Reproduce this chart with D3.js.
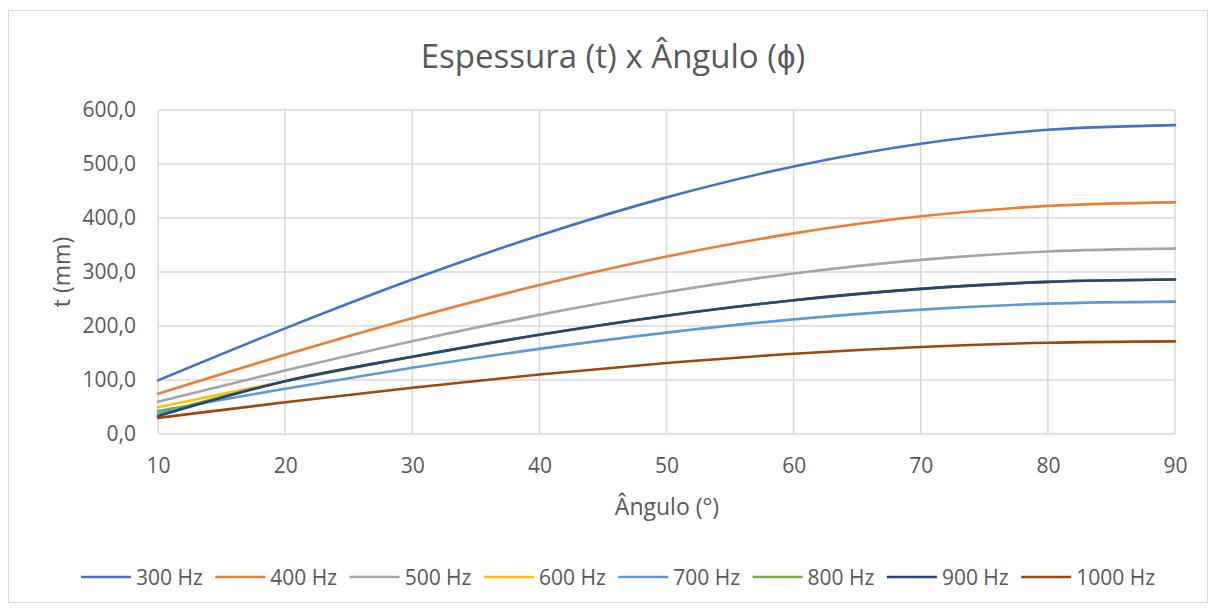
<!DOCTYPE html>
<html><head><meta charset="utf-8">
<script src="https://cdn.jsdelivr.net/npm/d3@7"></script>
<style>body{margin:0;background:#fff}svg{display:block}text{font-family:"Open Sans",sans-serif;fill:#595959}</style>
</head><body><svg id="c" width="1216" height="610"></svg>
<script>
const angles = [10,20,30,40,50,60,70,80,90];
const seriesNames = ["300 Hz","400 Hz","500 Hz","600 Hz","700 Hz","800 Hz","900 Hz","1000 Hz"];
const colors = ["#4472C4","#ED7D31","#A5A5A5","#FFC000","#5B9BD5","#70AD47","#264478","#9E480E"];
const t300  = [99.3,195.6,286.0,367.7,438.2,495.4,537.5,563.3,572.0];
const t400  = [74.5,146.7,214.5,275.8,328.6,371.5,403.1,422.5,429.0];
const t500  = [59.6,117.4,171.6,220.6,262.9,297.2,322.5,338.0,343.2];
const t600  = [49.7,97.8,143.0,183.8,219.1,247.7,268.7,281.7,286.0];
const t700  = [42.6,83.8,122.6,157.6,187.8,212.3,230.4,241.4,245.1];
const t800  = [37.3,97.8,143.0,183.8,219.1,247.7,268.7,281.7,286.0];
const t900  = [33.1,97.8,143.0,183.8,219.1,247.7,268.7,281.7,286.0];
const t1000 = [29.8,58.7,85.8,110.3,131.4,148.6,161.2,169.0,171.6];
const allSeries = [t300,t400,t500,t600,t700,t800,t900,t1000];
const yTicks = [0,100,200,300,400,500,600];
const xTicks = [10,20,30,40,50,60,70,80,90];

const svg = d3.select("#c");
svg.append("rect").attr("x",8.5).attr("y",10.5).attr("width",1199).attr("height",592)
  .attr("fill","#fff").attr("stroke","#d9d9d9").attr("stroke-width",1);

const L=158, R=1175, T=110, B=434;
const x = d3.scaleLinear().domain([10,90]).range([L,R]);
const y = d3.scaleLinear().domain([0,600]).range([B,T]);
const fmt = d => d3.format(".1f")(d).replace(".",",");

const g = svg.append("g");
g.selectAll("line.h").data(yTicks).join("line").attr("class","h")
  .attr("x1",L).attr("x2",R).attr("y1",d=>y(d)).attr("y2",d=>y(d))
  .attr("stroke","#d9d9d9").attr("stroke-width",1.5);
g.selectAll("line.v").data(xTicks).join("line").attr("class","v")
  .attr("y1",T).attr("y2",B).attr("x1",d=>x(d)).attr("x2",d=>x(d))
  .attr("stroke","#d9d9d9").attr("stroke-width",1.5);

const yAxis = d3.axisLeft(y).tickValues(yTicks).tickFormat(fmt).tickSize(0).tickPadding(22);
const ya = svg.append("g").attr("transform",`translate(${L},0)`).call(yAxis);
ya.select(".domain").remove();
ya.selectAll("text").attr("font-size",21).attr("fill","#595959").attr("font-family","Open Sans");
const xAxis = d3.axisBottom(x).tickValues(xTicks).tickFormat(d3.format("d")).tickSize(0).tickPadding(24);
const xa = svg.append("g").attr("transform",`translate(0,${B})`).call(xAxis);
xa.select(".domain").remove();
xa.selectAll("text").attr("font-size",21).attr("fill","#595959").attr("font-family","Open Sans");

const line = d3.line().x((d,i)=>x(angles[i])).y(d=>y(d)).curve(d3.curveCatmullRom.alpha(0.5));
allSeries.forEach((s,i)=>{
  svg.append("path").attr("d",line(s)).attr("fill","none")
    .attr("stroke",colors[i]).attr("stroke-width",2.6).attr("stroke-linecap","round");
});

svg.append("text").attr("x",613).attr("y",68).attr("text-anchor","middle")
  .attr("font-size",33).text("Espessura (t) x Ângulo (ϕ)");
svg.append("text").attr("x",667).attr("y",515).attr("text-anchor","middle")
  .attr("font-size",23).text("Ângulo (°)");
svg.append("text").attr("transform","translate(70,272) rotate(-90)").attr("text-anchor","middle")
  .attr("font-size",23).text("t (mm)");

const lg = svg.append("g");
let cx = 0;
const gap = 12.5;
seriesNames.forEach((n,i)=>{
  const it = lg.append("g");
  it.append("line").attr("x1",0).attr("x2",50).attr("y1",0).attr("y2",0)
    .attr("stroke",colors[i]).attr("stroke-width",2.6);
  const tx = it.append("text").attr("x",55).attr("y",7.5).attr("font-size",21).text(n);
  const w = 55 + tx.node().getComputedTextLength();
  it.attr("transform",`translate(${cx},577)`);
  cx += w + gap;
});
const total = cx - gap;
lg.attr("transform",`translate(${618 - total/2},0)`);
</script></body></html>
